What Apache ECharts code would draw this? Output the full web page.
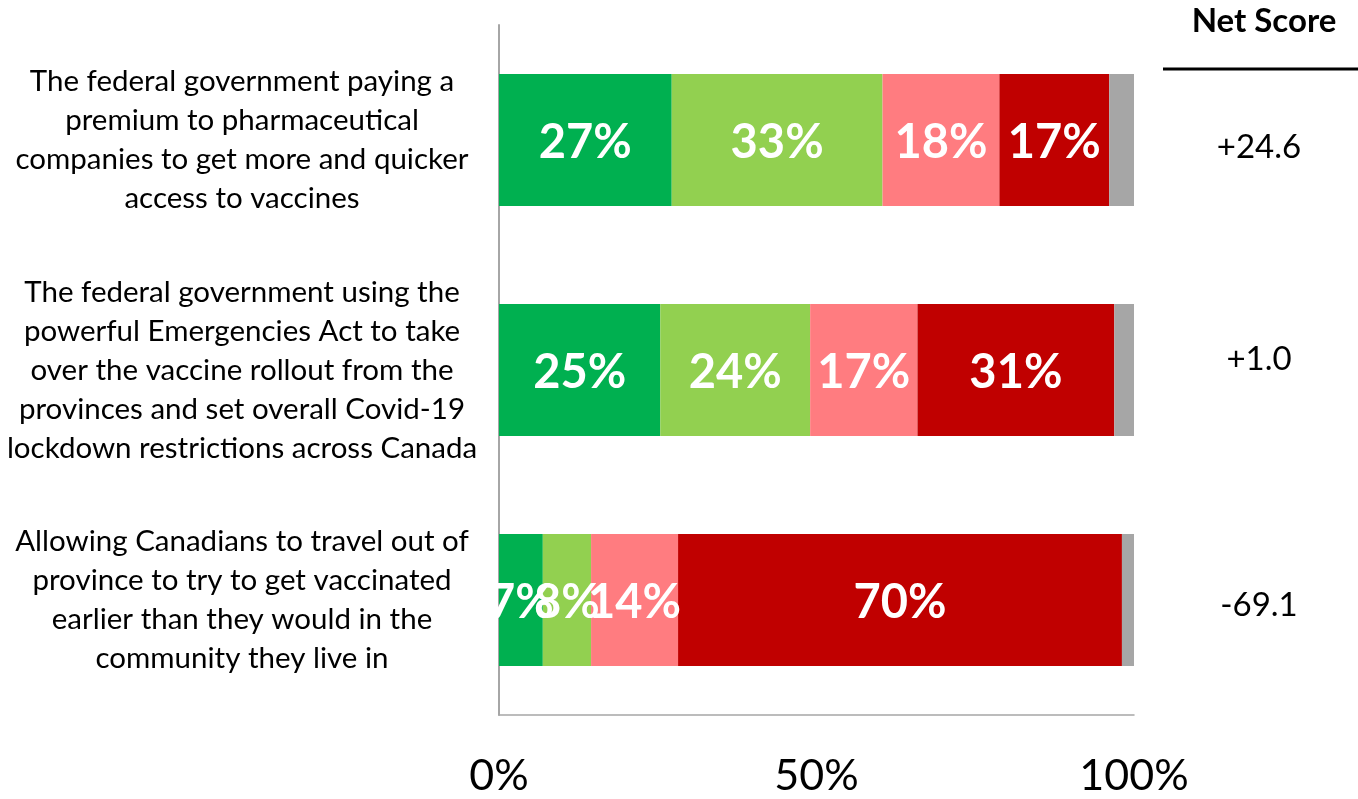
<!DOCTYPE html>
<html>
<head>
<meta charset="utf-8">
<script src="https://cdn.jsdelivr.net/npm/echarts@6/dist/echarts.min.js"></script>
<style>html,body{margin:0;padding:0;background:#fff;}#c{width:1358px;height:799px;}</style>
</head>
<body>
<div id="c"></div>
<script>
var categories = [
  "The federal government paying a\npremium to pharmaceutical\ncompanies to get more and quicker\naccess to vaccines",
  "The federal government using the\npowerful Emergencies Act to take\nover the vaccine rollout from the\nprovinces and set overall Covid-19\nlockdown restrictions across Canada",
  "Allowing Canadians to travel out of\nprovince to try to get vaccinated\nearlier than they would in the\ncommunity they live in"
];
var strongSupport = [27.2, 25.4, 6.9];
var someSupport = [33.2, 23.6, 7.6];
var someOppose = [18.4, 16.9, 13.7];
var strongOppose = [17.3, 31.0, 69.9];
var notSure = [3.9, 3.1, 1.9];
var netScores = ["+24.6", "+1.0", "-69.1"];
var tickLabels = {0: "0%", 50: "50%", 100: "100%"};

var FONT = "Lato";
var netRich = {
  n0: { fontFamily: FONT, fontSize: 33, color: '#000', padding: [14, 0, 0, 0] },
  n1: { fontFamily: FONT, fontSize: 33, color: '#000', padding: [0, 0, 22, 0] },
  n2: { fontFamily: FONT, fontSize: 33, color: '#000', padding: [10, 0, 0, 0] }
};
function barSeries(name, data, color, showLabel) {
  return {
    name: name, type: 'bar', stack: 'total', data: data, barWidth: 132,
    itemStyle: { color: color },
    label: {
      show: showLabel, position: 'inside', color: '#fff', fontFamily: FONT,
      fontWeight: 'bold', fontSize: 47, offset: [0, 3],
      formatter: function (p) { return Math.round(p.value) + '%'; }
    },
    emphasis: { disabled: true }
  };
}
var chart = echarts.init(document.getElementById('c'));
chart.setOption({
  animation: false,
  grid: { left: 499, right: 224, top: 25, bottom: 84 },
  xAxis: {
    type: 'value', min: 0, max: 100, interval: 50,
    axisLine: { show: true, lineStyle: { color: '#A6A6A6', width: 1.5 } },
    axisTick: { show: false }, splitLine: { show: false },
    axisLabel: { fontFamily: FONT, fontSize: 43, color: '#000', margin: 40,
      formatter: function (v) { return tickLabels[v]; } }
  },
  yAxis: [{
    type: 'category', data: categories, inverse: true,
    axisLine: { show: true, lineStyle: { color: '#A6A6A6', width: 2 } },
    axisTick: { show: false },
    axisLabel: { fontFamily: FONT, fontSize: 29.5, lineHeight: 39, color: '#000',
      align: 'center', margin: 257 }
  }, {
    type: 'category', data: netScores, inverse: true, position: 'right',
    axisLine: { show: false }, axisTick: { show: false },
    axisLabel: { fontFamily: FONT, fontSize: 33, color: '#000', align: 'center', margin: 125,
      rich: netRich,
      formatter: function (v, i) { return '{n' + i + '|' + v + '}'; } }
  }],
  title: {
    text: 'Net Score', left: 1259, top: 0, textAlign: 'center',
    textStyle: { fontFamily: FONT, fontWeight: 'bold', fontSize: 33, color: '#000' }
  },
  graphic: [{
    type: 'line', shape: { x1: 1163, y1: 69, x2: 1358, y2: 69 },
    style: { stroke: '#000', lineWidth: 3 }
  }],
  series: [
    barSeries('Strongly support', strongSupport, '#00B050', true),
    barSeries('Somewhat support', someSupport, '#92D050', true),
    barSeries('Somewhat oppose', someOppose, '#FF7C80', true),
    barSeries('Strongly oppose', strongOppose, '#C00000', true),
    barSeries('Not sure', notSure, '#A6A6A6', false)
  ]
});
</script>
</body>
</html>
